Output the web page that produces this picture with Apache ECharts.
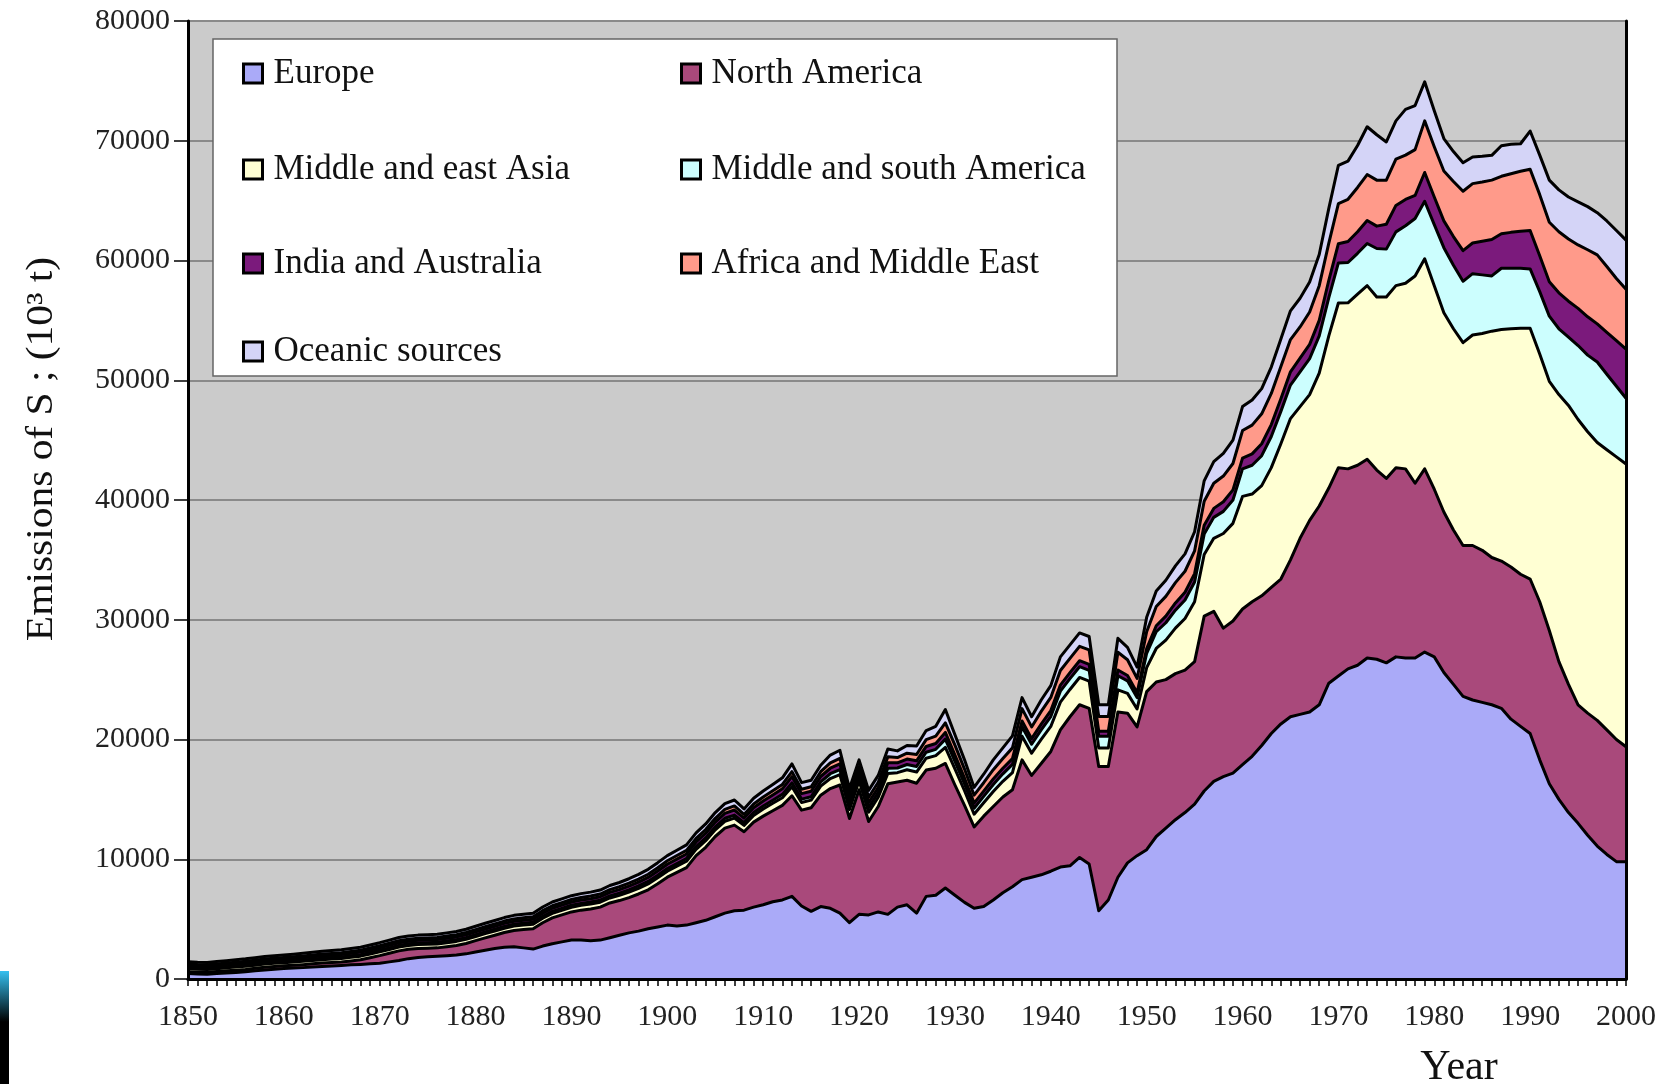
<!DOCTYPE html>
<html>
<head>
<meta charset="utf-8">
<title>Emissions of S by region, 1850–2000</title>
<script src="https://cdn.jsdelivr.net/npm/echarts@6/dist/echarts.min.js"></script>
<style>
html, body { margin: 0; padding: 0; background: #ffffff; }
#chart { width: 1663px; height: 1084px; }
</style>
</head>
<body>
<div id="chart"></div>
<script>
// Years on the category axis, one per year
const years = Array.from({ length: 151 }, (_, i) => String(1850 + i));
const yTicks = { min: 0, max: 80000, interval: 10000 };

// Emissions of S per region, 10^3 t (stacked bottom to top in this order)
const europe = [
  450, 420, 400, 450, 500, 550, 600, 680, 750, 820,
  880, 910, 950, 1000, 1050, 1090, 1130, 1180, 1220, 1270,
  1320, 1430, 1550, 1700, 1800, 1850, 1900, 1950, 2000, 2100,
  2250, 2400, 2550, 2650, 2700, 2600, 2500, 2750, 2950, 3100,
  3250, 3250, 3200, 3250, 3450, 3650, 3850, 4000, 4200, 4350,
  4500, 4420, 4500, 4700, 4900, 5200, 5500, 5700, 5750, 6000,
  6200, 6450, 6600, 6900, 6100, 5650, 6050, 5900, 5500, 4700,
  5400, 5350, 5600, 5400, 6000, 6200, 5500, 6900, 7000, 7600,
  7000, 6400, 5900, 6050, 6600, 7200, 7700, 8300, 8500, 8700,
  9000, 9350, 9450, 10150, 9600, 5700, 6600, 8500, 9700, 10300,
  10800, 11900, 12600, 13300, 13900, 14600, 15700, 16500, 16900, 17200,
  17900, 18600, 19500, 20500, 21300, 21900, 22100, 22300, 22900, 24700,
  25300, 25900, 26200, 26800, 26700, 26400, 26900, 26800, 26800, 27300,
  26900, 25600, 24600, 23600, 23300, 23100, 22900, 22600, 21700, 21100,
  20500, 18300, 16300, 15000, 13900, 13000, 12000, 11100, 10400, 9800,
  9800
];
const northAmerica = [
  150, 150, 160, 170, 180, 190, 200, 215, 230, 225,
  220, 235, 250, 265, 280, 285, 290, 330, 380, 500,
  630, 720, 800, 780, 750, 720, 700, 750, 800, 870,
  950, 1030, 1100, 1230, 1350, 1530, 1700, 1950, 2150, 2250,
  2350, 2500, 2650, 2750, 2900, 2900, 2950, 3100, 3250, 3600,
  4000, 4480, 4800, 5600, 6100, 6700, 7100, 7150, 6550, 7100,
  7400, 7600, 7900, 8400, 8000, 8650, 9300, 10000, 10700, 8700,
  10400, 7800, 8800, 10900, 10450, 10400, 10850, 10550, 10600, 10400,
  9200, 8100, 6800, 7550, 7800, 8000, 8100, 10000, 8500, 9300,
  10000, 11450, 12450, 12750, 13000, 12050, 11150, 13800, 12500, 10750,
  13200, 12900, 12400, 12200, 11900, 11900, 14600, 14200, 12400, 12700,
  13000, 12900, 12500, 12200, 12100, 13100, 14700, 16000, 16600, 16300,
  17400, 16700, 16700, 16600, 15800, 15400, 15800, 15800, 14600, 15300,
  14000, 13400, 12900, 12600, 12900, 12700, 12300, 12300, 12700, 12700,
  12900, 13200, 12800, 11500, 10700, 9900, 10200, 10500, 10400, 10200,
  9600
];
const eastAsia = [
  250, 245, 240, 245, 250, 255, 260, 260, 262, 264,
  266, 270, 275, 280, 287, 292, 297, 302, 308, 312,
  316, 320, 325, 322, 325, 328, 332, 336, 340, 345,
  350, 355, 360, 362, 367, 372, 375, 380, 385, 390,
  393, 398, 405, 412, 420, 435, 452, 470, 490, 505,
  500, 520, 530, 530, 550, 560, 570, 590, 530, 560,
  590, 620, 640, 760, 640, 640, 750, 840, 870, 750,
  750, 780, 780, 870, 780, 870, 930, 990, 1050, 1350,
  1340, 1220, 1060, 1120, 1250, 1310, 1440, 1980, 1860, 2010,
  2090, 2320, 2280, 2280, 2280, 1550, 1550, 1850, 1650, 1500,
  2000, 2800, 3300, 3800, 4300, 5000, 5150, 6100, 7900, 8150,
  9400, 9000, 9200, 10000, 11300, 11800, 11000, 10500, 11100, 12700,
  13750, 13870, 14300, 14500, 14450, 15150, 15200, 15500, 17310, 17550,
  17000, 16630, 16800, 16940, 17580, 18110, 18900, 19330, 19900, 20550,
  20940, 20700, 20810, 22300, 23300, 23820, 23500, 23200, 23400, 23600,
  23600
];
const southAmerica = [
  100, 98, 96, 98, 100, 102, 104, 105, 106, 107,
  108, 110, 112, 114, 117, 119, 121, 124, 126, 128,
  130, 132, 134, 133, 134, 135, 137, 139, 141, 143,
  146, 148, 150, 151, 153, 155, 157, 159, 161, 163,
  165, 167, 170, 173, 176, 182, 190, 198, 206, 213,
  220, 220, 230, 230, 230, 240, 250, 250, 230, 240,
  250, 260, 280, 320, 280, 280, 360, 400, 420, 360,
  360, 380, 380, 430, 390, 440, 470, 500, 530, 680,
  630, 570, 500, 530, 590, 620, 680, 780, 740, 800,
  830, 920, 900, 900, 900, 980, 980, 1170, 1050, 950,
  1200, 1400, 1450, 1500, 1550, 1650, 1700, 1750, 1850, 1950,
  2300, 2400, 2500, 2600, 2700, 2800, 2900, 3000, 3100, 3200,
  3350, 3360, 3400, 3520, 4050, 4000, 4490, 4800, 4800, 4800,
  5100, 5440, 5300, 5120, 5120, 4890, 4610, 5120, 5050, 5000,
  4960, 5200, 5440, 5500, 5700, 6180, 6400, 6720, 6300, 5900,
  5500
];
const indiaAustralia = [
  170, 167, 164, 167, 170, 173, 176, 177, 178, 180,
  182, 185, 188, 192, 196, 200, 203, 207, 211, 214,
  217, 220, 223, 221, 223, 225, 228, 231, 234, 237,
  240, 244, 248, 250, 253, 256, 259, 262, 265, 268,
  271, 275, 280, 285, 290, 300, 312, 325, 338, 349,
  360, 370, 380, 380, 390, 400, 410, 420, 380, 400,
  420, 440, 460, 520, 460, 460, 450, 460, 470, 420,
  420, 430, 430, 460, 430, 460, 470, 480, 490, 560,
  520, 480, 430, 440, 460, 470, 480, 480, 470, 480,
  490, 500, 500, 500, 500, 410, 410, 490, 440, 400,
  400, 500, 550, 600, 650, 700, 750, 750, 800, 850,
  900, 950, 1000, 1000, 1050, 1100, 1150, 1200, 1300, 1450,
  1600, 1760, 1800, 1920, 1870, 2080, 2210, 2200, 1920, 2400,
  2300, 2240, 2400, 2560, 2560, 2800, 3040, 2880, 3000, 3100,
  3200, 3000, 2880, 3000, 3000, 3100, 3200, 3190, 3500, 3800,
  4100
];
const africaMidEast = [
  130, 128, 126, 128, 130, 132, 135, 136, 137, 138,
  140, 142, 145, 148, 151, 154, 157, 160, 163, 166,
  168, 170, 173, 171, 172, 174, 176, 178, 181, 184,
  187, 190, 193, 195, 197, 199, 201, 204, 207, 210,
  212, 215, 219, 223, 227, 235, 245, 255, 266, 276,
  290, 300, 300, 300, 310, 320, 330, 340, 300, 320,
  340, 350, 370, 420, 370, 370, 400, 450, 470, 420,
  420, 440, 440, 490, 440, 490, 530, 570, 610, 800,
  840, 760, 660, 700, 780, 820, 900, 1040, 980, 1060,
  1100, 1220, 1200, 1200, 1200, 1240, 1240, 1480, 1320, 1200,
  1400, 1600, 1650, 1700, 1750, 1900, 2000, 2100, 2150, 2200,
  2300, 2400, 2500, 2600, 2700, 2700, 2600, 2700, 2900, 3100,
  3350, 3520, 3700, 3840, 3840, 3680, 3860, 3700, 3830, 4310,
  4200, 4160, 4600, 4960, 4960, 4950, 4960, 4800, 4900, 5000,
  5120, 5100, 4960, 5100, 5200, 5300, 5600, 5760, 5500, 5200,
  5000
];
const oceanic = [
  200, 196, 192, 196, 200, 204, 208, 210, 212, 214,
  216, 219, 222, 226, 230, 234, 238, 242, 246, 250,
  253, 256, 260, 258, 260, 262, 265, 268, 272, 276,
  280, 284, 288, 291, 295, 299, 302, 306, 310, 314,
  318, 323, 330, 337, 345, 358, 374, 390, 407, 422,
  430, 440, 460, 460, 470, 480, 490, 500, 460, 480,
  500, 530, 550, 640, 550, 550, 540, 650, 670, 550,
  550, 570, 570, 650, 560, 640, 700, 760, 820, 1110,
  870, 770, 650, 710, 820, 880, 1000, 920, 850, 950,
  990, 1140, 1120, 1120, 1120, 970, 970, 1160, 1040, 950,
  1200, 1300, 1350, 1400, 1450, 1600, 1700, 1800, 1900, 1950,
  2000, 2100, 2100, 2200, 2300, 2400, 2400, 2500, 2600, 2900,
  3200, 3190, 3500, 3990, 3790, 3190, 3200, 3820, 3680, 3260,
  3000, 2710, 2500, 2390, 2230, 2150, 2070, 2550, 2450, 2300,
  3190, 3300, 3520, 3500, 3500, 3600, 3600, 3520, 3800, 4000,
  4100
];

const SERIF = "'Liberation Serif', 'Times New Roman', serif";

const regions = [
  { name: 'Europe', data: europe, color: '#aaaaf8' },
  { name: 'North America', data: northAmerica, color: '#a9497b' },
  { name: 'Middle and east Asia', data: eastAsia, color: '#ffffd3' },
  { name: 'Middle and south America', data: southAmerica, color: '#ccfefe' },
  { name: 'India and Australia', data: indiaAustralia, color: '#7b1a7c' },
  { name: 'Africa and Middle East', data: africaMidEast, color: '#ff9a8a' },
  { name: 'Oceanic sources', data: oceanic, color: '#d4d4f7' }
];

// Lower layers are painted later so every black outline stays fully visible
const series = regions.map((r, i) => ({
  name: r.name,
  type: 'line',
  stack: 'total',
  data: r.data,
  symbol: 'none',
  showSymbol: false,
  z: 2 + (regions.length - 1 - i),
  itemStyle: { color: r.color },
  lineStyle: { color: '#000000', width: 3, join: 'round' },
  areaStyle: { color: r.color, opacity: 1 },
  emphasis: { disabled: true },
  silent: true
}));

// Legend: two columns inside a white box
const legendSlots = [
  ['Europe', 0, 0], ['North America', 1, 0],
  ['Middle and east Asia', 0, 1], ['Middle and south America', 1, 1],
  ['India and Australia', 0, 2], ['Africa and Middle East', 1, 2],
  ['Oceanic sources', 0, 3]
];
const legendColX = [242, 680];
const legendRowY = [73, 169, 263, 351];
const legends = legendSlots.map(([name, c, r]) => ({
  data: [name],
  left: legendColX[c],
  top: legendRowY[r] - 17,
  padding: 0,
  icon: 'rect',
  itemWidth: 19,
  itemHeight: 19,
  itemStyle: { borderColor: '#000000', borderWidth: 3 },
  textStyle: { fontFamily: SERIF, fontSize: 35, color: '#111111', lineHeight: 34, padding: [0, 0, 0, 6] },
  selectedMode: false,
  z: 30
}));

const axisFont = { fontFamily: SERIF, fontSize: 30, color: '#222222' };

const option = {
  animation: false,
  backgroundColor: '#ffffff',
  grid: {
    left: 188, right: 37, top: 21, bottom: 105,
    show: true, backgroundColor: '#cbcbcb', borderWidth: 0,
    containLabel: false, outerBoundsMode: 'none', z: 0
  },
  xAxis: [
    {
      type: 'category', data: years, boundaryGap: false, position: 'bottom', z: 10,
      axisLine: { show: true, lineStyle: { color: '#000000', width: 3 } },
      axisTick: { show: true, interval: 0, length: 7, lineStyle: { color: '#000000', width: 1.5 } },
      axisLabel: {
        ...axisFont, margin: 23, hideOverlap: false,
        interval: (idx, val) => Number(val) % 10 === 0
      },
      splitLine: { show: false }
    },
    {
      type: 'category', data: years, boundaryGap: false, position: 'top', z: 10,
      axisLine: { show: true, lineStyle: { color: '#000000', width: 2.5 } },
      axisTick: { show: false }, axisLabel: { show: false }, splitLine: { show: false }
    }
  ],
  yAxis: [
    {
      type: 'value', position: 'left', ...yTicks, z: 1,
      axisLine: { show: false }, axisTick: { show: false }, axisLabel: { show: false },
      splitLine: { show: true, lineStyle: { color: '#8a8a8a', width: 2 } }
    },
    {
      type: 'value', position: 'left', ...yTicks, z: 10,
      axisLine: { show: true, lineStyle: { color: '#000000', width: 3 } },
      axisTick: { show: true, length: 14, lineStyle: { color: '#000000', width: 1.5 } },
      axisLabel: { ...axisFont, margin: 18, formatter: v => String(v) },
      splitLine: { show: false }
    },
    {
      type: 'value', position: 'right', ...yTicks, z: 10,
      axisLine: { show: true, lineStyle: { color: '#000000', width: 3 } },
      axisTick: { show: false }, axisLabel: { show: false }, splitLine: { show: false }
    }
  ],
  legend: legends,
  graphic: {
    elements: [
      {
        type: 'rect', z: 25, silent: true,
        shape: { x: 213, y: 39, width: 904, height: 337 },
        style: { fill: '#ffffff', stroke: '#666666', lineWidth: 1.5 }
      },
      {
        // vertical axis title
        type: 'text', z: 30, silent: true, x: 42, y: 449,
        rotation: Math.PI / 2, scaleX: 1.12,
        style: { text: 'Emissions of S ; (10³ t)', fontFamily: SERIF, fontSize: 37, fill: '#111111', align: 'center', verticalAlign: 'middle' }
      },
      {
        type: 'text', z: 30, silent: true, x: 1459, y: 1068,
        style: { text: 'Year', fontFamily: SERIF, fontSize: 42, fill: '#111111', align: 'center', verticalAlign: 'middle' }
      },
      {
        type: 'rect', z: 30, silent: true,
        shape: { x: 0, y: 971, width: 9, height: 113 },
        style: {
          fill: new echarts.graphic.LinearGradient(0, 0, 0, 1, [
            { offset: 0, color: '#35c0f0' },
            { offset: 0.45, color: '#000000' },
            { offset: 1, color: '#000000' }
          ])
        }
      }
    ]
  },
  series: series
};

const chart = echarts.init(document.getElementById('chart'), null, { renderer: 'canvas' });
chart.setOption(option);
</script>
</body>
</html>
